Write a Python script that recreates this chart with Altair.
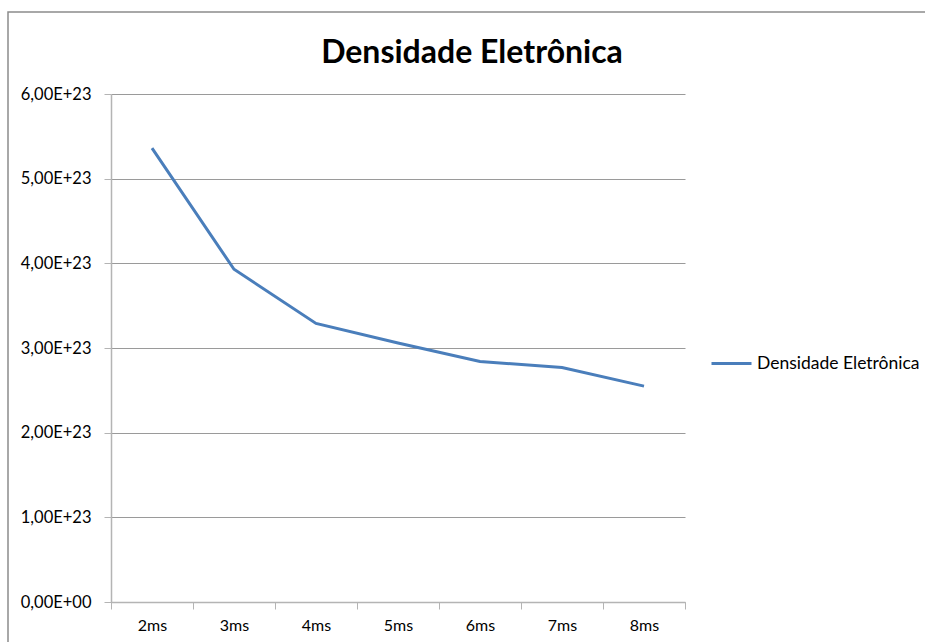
import altair as alt
import pandas as pd

categories = ["2ms", "3ms", "4ms", "5ms", "6ms", "7ms", "8ms"]
values = [5.36e23, 3.93e23, 3.29e23, 3.06e23, 2.84e23, 2.77e23, 2.55e23]
series_name = "Densidade Eletrônica"
y_ticks = [0, 1e23, 2e23, 3e23, 4e23, 5e23, 6e23]

df = pd.DataFrame({
    "tempo": categories,
    "valor": values,
    "serie": [series_name] * len(categories),
})

FONT = "Lato"
GRID = "#9A9A9A"
AXIS = "#B4B4B4"

line = alt.Chart(df).mark_line(strokeWidth=3).encode(
    x=alt.X(
        "tempo:N",
        sort=categories,
        scale=alt.Scale(type="band", paddingInner=0, paddingOuter=0),
        axis=alt.Axis(
            title=None, tickBand="extent", labelAngle=0, grid=False,
            domainColor=AXIS, tickColor=AXIS, tickSize=7, domainWidth=1.5,
            labelFont=FONT, labelFontSize=16, labelColor="#000000", labelPadding=8,
        ),
    ),
    y=alt.Y(
        "valor:Q",
        scale=alt.Scale(domain=[0, 6e23], nice=False),
        axis=alt.Axis(
            title=None, values=y_ticks, grid=True, gridColor=GRID, gridWidth=1,
            labelExpr="datum.value == 0 ? '0,00E+00' : replace(upper(format(datum.value, '.2e')), '.', ',')",
            domainColor=AXIS, tickColor=AXIS, tickSize=7, domainWidth=1.5,
            labelFont=FONT, labelFontSize=16.5, labelColor="#000000", labelPadding=13,
        ),
    ),
    color=alt.Color(
        "serie:N",
        scale=alt.Scale(range=["#4A7EBB"]),
        legend=alt.Legend(
            title=None, orient="none", legendX=599, legendY=248, padding=0,
            symbolType="stroke", symbolSize=1600, symbolStrokeWidth=3,
            labelFont=FONT, labelFontSize=17.5, labelColor="#000000", labelOffset=4,
            labelLimit=400,
        ),
    ),
)

border = alt.Chart(pd.DataFrame({"a": [0]})).mark_rect(
    fill="transparent", stroke="#8C8C8C", strokeWidth=1.5
).encode(
    x=alt.value(-103), x2=alt.value(830), y=alt.value(-82), y2=alt.value(560)
)

chart = alt.layer(border, line).properties(
    width=574,
    height=508,
    padding={"left": 111, "top": 94, "right": 240, "bottom": 40},
    autosize=alt.AutoSizeParams(type="none"),
    background="white",
    title=alt.TitleParams(
        text="Densidade Eletrônica", font=FONT, fontSize=32, fontWeight="bold",
        color="#000000", anchor="middle", frame="group", dx=74,
        baseline="alphabetic", offset=0, dy=84,
    ),
).configure_view(stroke="transparent")

chart.save("out.html", embed_options={"renderer": "svg", "actions": False})
